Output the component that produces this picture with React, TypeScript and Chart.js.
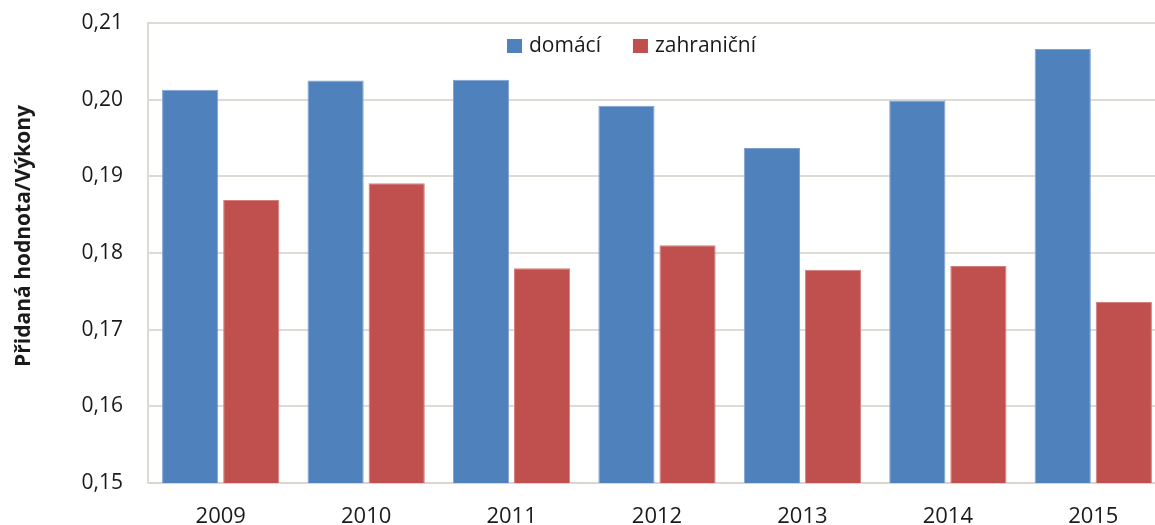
import React, { useEffect, useRef } from "react";
import { Chart, registerables } from "chart.js";

Chart.register(...registerables);

const categories: string[] = ["2009", "2010", "2011", "2012", "2013", "2014", "2015"];
const domaci: number[] = [0.2013, 0.2025, 0.2026, 0.1992, 0.1937, 0.1999, 0.2066];
const zahranicni: number[] = [0.1869, 0.1891, 0.1780, 0.1810, 0.1778, 0.1783, 0.1736];
const seriesLabels: string[] = ["domácí", "zahraniční"];
const yTitle = "Přidaná hodnota/Výkony";
const yMin = 0.15;
const yMax = 0.21;
const yStep = 0.01;

const FONT = "'Open Sans', 'DejaVu Sans', sans-serif";

const overlayPlugin = {
  id: "overlay",
  afterDraw(chart: any) {
    const ctx = chart.ctx;
    const area = chart.chartArea;
    ctx.save();
    // y axis title
    ctx.font = `bold 21px ${FONT}`;
    ctx.fillStyle = "#1a1a1a";
    ctx.textAlign = "center";
    ctx.textBaseline = "middle";
    ctx.translate(24, 236);
    ctx.rotate(-Math.PI / 2);
    ctx.fillText(yTitle, 0, 0);
    ctx.restore();

    // legend
    ctx.save();
    ctx.font = `21px ${FONT}`;
    ctx.textBaseline = "middle";
    ctx.textAlign = "left";
    const cy = area.top + 23;
    let x = area.left + 359;
    chart.data.datasets.forEach((ds: any) => {
      ctx.fillStyle = ds.backgroundColor;
      ctx.fillRect(x, cy - 7, 15, 14);
      x += 22;
      ctx.fillStyle = "#1a1a1a";
      ctx.fillText(ds.label, x, cy);
      x += ctx.measureText(ds.label).width + 32;
    });
    ctx.restore();
  },
};

export default function App() {
  const canvasRef = useRef<HTMLCanvasElement | null>(null);

  useEffect(() => {
    if (!canvasRef.current) return;
    const chart = new Chart(canvasRef.current, {
      type: "bar",
      data: {
        labels: categories,
        datasets: [
          {
            label: seriesLabels[0],
            data: domaci,
            backgroundColor: "#4F81BD",
            borderColor: "#7fa0cf",
            borderWidth: { top: 1, left: 1, right: 1, bottom: 0 },
            borderSkipped: false,
            categoryPercentage: 0.84,
            barPercentage: 0.92,
          },
          {
            label: seriesLabels[1],
            data: zahranicni,
            backgroundColor: "#C0504D",
            borderColor: "#d47f7c",
            borderWidth: { top: 1, left: 1, right: 1, bottom: 0 },
            borderSkipped: false,
            categoryPercentage: 0.84,
            barPercentage: 0.92,
          },
        ],
      },
      options: {
        responsive: false,
        animation: false,
        layout: { padding: { top: 23, left: 0, right: 0, bottom: 0 } },
        plugins: {
          legend: { display: false },
          tooltip: { enabled: false },
          title: { display: false },
        },
        scales: {
          x: {
            grid: { display: false, drawTicks: false },
            border: { display: true, color: "#d9d6cf", width: 2 },
            ticks: {
              font: { family: FONT, size: 22 },
              color: "#1a1a1a",
              padding: 21,
              maxRotation: 0,
            },
            afterFit(scale: any) {
              scale.height = 62;
            },
          },
          y: {
            min: yMin,
            max: yMax,
            grid: { color: "#dedbd4", lineWidth: 2, drawTicks: false },
            border: { display: true, color: "#dedbd4", width: 2 },
            ticks: {
              stepSize: yStep,
              font: { family: FONT, size: 21 },
              color: "#1a1a1a",
              padding: 25,
              callback: (v: any) => Number(v).toFixed(2).replace(".", ","),
            },
            afterFit(scale: any) {
              scale.width = 148;
              scale.paddingTop = 0;
              scale.paddingBottom = 0;
            },
          },
        },
      },
      plugins: [overlayPlugin],
    });
    return () => chart.destroy();
  }, []);

  return (
    <div
      style={{
        position: "fixed",
        left: 0,
        top: 0,
        width: 1155,
        height: 525,
        overflow: "hidden",
        background: "#ffffff",
      }}
    >
      <canvas ref={canvasRef} width={1166} height={545} style={{ display: "block" }} />
    </div>
  );
}
